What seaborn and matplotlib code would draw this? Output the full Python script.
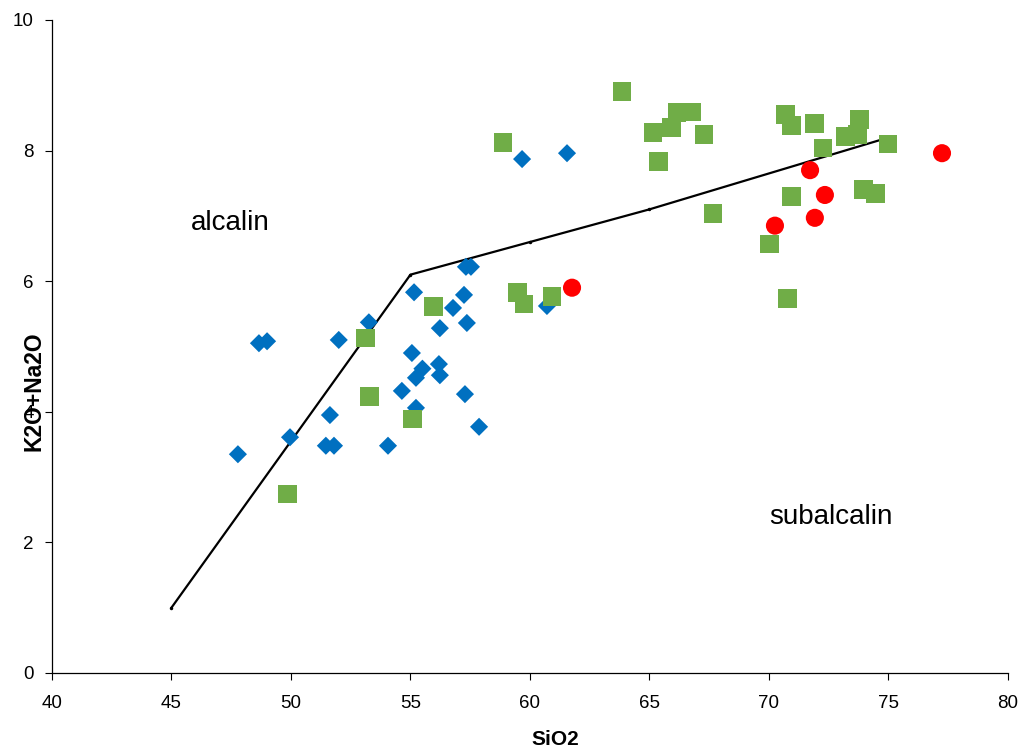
import matplotlib
matplotlib.use("Agg")
import matplotlib.pyplot as plt
import seaborn as sns

sns.set_theme(style="ticks")
plt.rcParams["font.family"] = ["Liberation Sans", "DejaVu Sans"]
for key in ("text.color", "axes.labelcolor", "xtick.color", "ytick.color",
            "axes.edgecolor"):
    plt.rcParams[key] = "black"

# Boundary between alkaline and subalkaline fields
line_sio2 = [45, 55, 60, 65, 75]
line_alk = [1.0, 6.1, 6.6, 7.1, 8.2]

# Blue diamonds
blue_sio2 = [47.78, 48.66, 49.0, 49.96, 52.0, 53.26, 51.63, 51.46, 51.8, 54.06,
             54.64, 55.23, 55.15, 55.06, 55.23, 55.5, 56.23, 56.19, 56.23, 56.78,
             57.24, 57.32, 57.53, 57.36, 57.28, 57.87, 59.67, 61.55, 60.71]
blue_alk = [3.35, 5.05, 5.08, 3.61, 5.10, 5.37, 3.95, 3.48, 3.48, 3.48,
            4.32, 4.06, 5.83, 4.90, 4.52, 4.66, 5.28, 4.73, 4.56, 5.59,
            5.79, 6.22, 6.22, 5.36, 4.27, 3.77, 7.87, 7.96, 5.62]

# Green squares
green_sio2 = [55.98, 53.1, 53.3, 55.1, 49.87, 58.87, 59.46, 59.75, 60.92,
              63.85, 65.15, 65.94, 66.15, 66.78, 67.28, 65.36, 67.66,
              70.71, 70.96, 71.92, 72.26, 73.22, 73.77, 73.72, 74.98,
              70.96, 73.97, 74.44, 70.04, 70.79]
green_alk = [5.61, 5.13, 4.24, 3.89, 2.74, 8.12, 5.82, 5.65, 5.76,
             8.90, 8.27, 8.36, 8.58, 8.59, 8.24, 7.83, 7.04,
             8.55, 8.39, 8.41, 8.04, 8.21, 8.47, 8.25, 8.10,
             7.29, 7.41, 7.34, 6.57, 5.74]

# Red circles
red_sio2 = [61.76, 71.72, 72.34, 71.92, 70.25, 77.24]
red_alk = [5.90, 7.70, 7.32, 6.97, 6.85, 7.96]

fig = plt.figure(figsize=(10.23, 7.51), dpi=100)
ax = fig.add_axes([0.0508, 0.1039, 0.9345, 0.8695])

sns.lineplot(x=line_sio2, y=line_alk, sort=False, color="black", linewidth=1.6,
             marker="o", markersize=2.5, markeredgewidth=0, ax=ax)

sns.scatterplot(x=blue_sio2, y=blue_alk, marker="D", s=85, color="#0070C0",
                edgecolor="none", linewidth=0, ax=ax, zorder=3)
sns.scatterplot(x=green_sio2, y=green_alk, marker="s", s=185, color="#70AD47",
                edgecolor="none", linewidth=0, ax=ax, zorder=3)
sns.scatterplot(x=red_sio2, y=red_alk, marker="o", s=170, color="#FF0000",
                edgecolor="none", linewidth=0, ax=ax, zorder=3)

ax.set_xlim(40, 80)
ax.set_ylim(0, 10)
ax.set_xticks(range(40, 81, 5))
ax.set_yticks(range(0, 11, 2))
ax.tick_params(axis="both", labelsize=13.5, length=5, width=0.8,
               colors="black", direction="out")
ax.tick_params(axis="x", pad=11)
ax.tick_params(axis="y", pad=8)
sns.despine(ax=ax)
for side in ("left", "bottom"):
    ax.spines[side].set_linewidth(0.9)
    ax.spines[side].set_color("black")

ax.set_xlabel("SiO2", fontsize=15, fontweight="bold", va="center")
ax.set_ylabel("K2O+Na2O", fontsize=16.5, fontweight="bold", va="center")
ax.xaxis.set_label_coords(0.527, -0.1026)
ax.yaxis.set_label_coords(-0.0188, 0.432)

ax.text(47.45, 6.89, "alcalin", fontsize=20, ha="center", va="center")
ax.text(72.6, 2.39, "subalcalin", fontsize=20, ha="center", va="center")

fig.savefig("out.png", dpi=100)
